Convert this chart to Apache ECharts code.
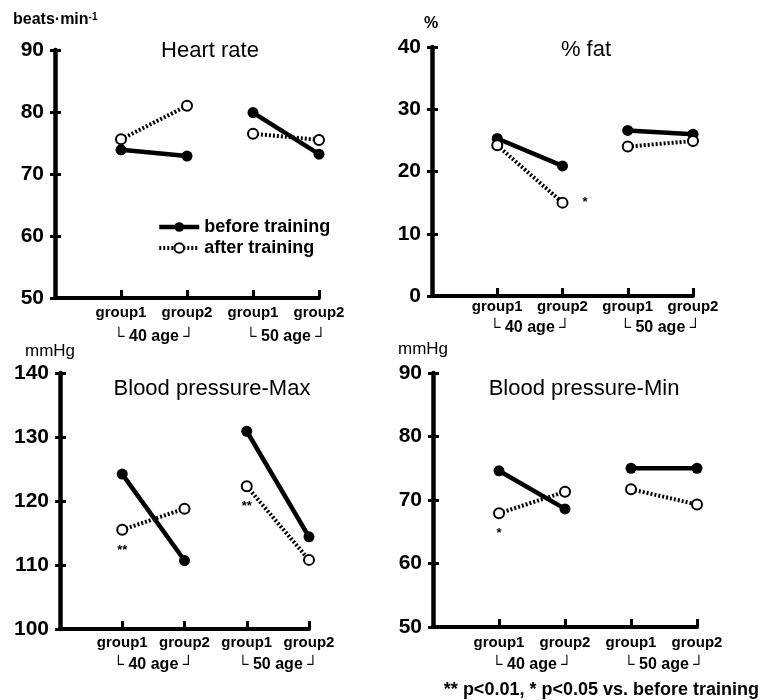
<!DOCTYPE html>
<html>
<head>
<meta charset="utf-8">
<script src="https://cdn.jsdelivr.net/npm/echarts@6/dist/echarts.min.js"></script>
<style>
  html, body { margin: 0; padding: 0; background: #fff; }
  #chart { width: 761px; height: 700px; }
</style>
</head>
<body>
<div id="chart"></div>
<script>
const categories = ['', 'group1', 'group2', 'group1', 'group2'];
const ageGroups = ['\u2514 40 age \u2518', '\u2514 50 age \u2518'];

// order: 40 age group1, 40 age group2, 50 age group1, 50 age group2
const hrBefore = [73.9, 72.9, 79.9, 73.2];
const hrAfter = [75.6, 81.0, 76.5, 75.5];
const hrTicks = [50, 60, 70, 80, 90];
const hrSig = ['', '', '', ''];

const fatBefore = [25.3, 20.9, 26.6, 26.0];
const fatAfter = [24.2, 15.0, 24.0, 24.9];
const fatTicks = [0, 10, 20, 30, 40];
const fatSig = ['', '*', '', ''];

const bpMaxBefore = [124.2, 110.7, 130.9, 114.4];
const bpMaxAfter = [115.5, 118.8, 122.3, 110.8];
const bpMaxTicks = [100, 110, 120, 130, 140];
const bpMaxSig = ['**', '', '**', ''];

const bpMinBefore = [74.6, 68.6, 75.0, 75.0];
const bpMinAfter = [67.9, 71.3, 71.7, 69.3];
const bpMinTicks = [50, 60, 70, 80, 90];
const bpMinSig = ['*', '', '', ''];

const footnote = '** p<0.01, * p<0.05 vs. before training';
const FONT = '"Liberation Sans", Arial, sans-serif';

const panels = [
  {
    title: 'Heart rate', unit: 'beats\u00b7min{sup|-1}', unitBold: true,
    before: hrBefore, after: hrAfter, ticks: hrTicks, sig: hrSig, sigPos: 'bottom',
    grid: { left: 55, top: 50, width: 264, height: 248 },
    titleAt: [205, 35], unitAt: [13, 12], labelGap: 15, ageGap: 39
  },
  {
    title: '% fat', unit: '%', unitBold: true,
    before: fatBefore, after: fatAfter, ticks: fatTicks, sig: fatSig, sigPos: 'right',
    grid: { left: 432, top: 47, width: 261, height: 249 },
    titleAt: [581, 34], unitAt: [424, 16], labelGap: 11, ageGap: 32
  },
  {
    title: 'Blood pressure-Max', unit: 'mmHg', unitBold: false,
    before: bpMaxBefore, after: bpMaxAfter, ticks: bpMaxTicks, sig: bpMaxSig, sigPos: 'bottom',
    grid: { left: 60, top: 373, width: 249, height: 256 },
    titleAt: [207, 373], unitAt: [25, 343], labelGap: 14, ageGap: 36
  },
  {
    title: 'Blood pressure-Min', unit: 'mmHg', unitBold: false,
    before: bpMinBefore, after: bpMinAfter, ticks: bpMinTicks, sig: bpMinSig, sigPos: 'bottom',
    grid: { left: 433, top: 373, width: 264, height: 254 },
    titleAt: [579, 373], unitAt: [398, 341], labelGap: 16, ageGap: 38
  }
];

// one age group's two points, the rest left empty so lines don't join across groups
function ageData(values, sig, k) {
  return categories.map((c, i) => {
    const j = i - 1;
    if (j < 2 * k || j >= 2 * k + 2) return '-';
    const item = { value: values[j] };
    if (sig && sig[j]) item.label = { show: true, formatter: sig[j] };
    return item;
  });
}

const chart = echarts.init(document.getElementById('chart'));

const grids = [], xAxes = [], yAxes = [], series = [], titles = [];

panels.forEach((p, idx) => {
  const step = p.ticks[1] - p.ticks[0];
  const yMin = p.ticks[0], yMax = p.ticks[p.ticks.length - 1];
  grids.push(Object.assign({ containLabel: false }, p.grid));
  titles.push({
    text: p.title, left: p.titleAt[0], top: p.titleAt[1], textAlign: 'center',
    textStyle: { fontSize: 22, fontWeight: 'normal', color: '#000', fontFamily: FONT }
  });
  xAxes.push({
    gridIndex: idx, type: 'category', data: categories, boundaryGap: false,
    axisLine: { lineStyle: { color: '#000', width: 4 } },
    axisTick: { inside: true, length: 8, interval: (i) => i > 0, lineStyle: { color: '#000', width: 3 } },
    axisLabel: { interval: 0, color: '#000', fontSize: 15, fontWeight: 'bold', margin: p.labelGap - 8, fontFamily: FONT },
    splitLine: { show: false }
  });
  // main axis: line, outer ticks, labels
  yAxes.push({
    gridIndex: idx, type: 'value', position: 'left', min: yMin, max: yMax, interval: step,
    axisLine: { show: true, lineStyle: { color: '#000', width: 4.5 } },
    axisTick: { show: true, length: 5, lineStyle: { color: '#000', width: 3 } },
    axisLabel: { color: '#000', fontSize: 21, fontWeight: 'bold', margin: 11, fontFamily: FONT },
    splitLine: { show: false }
  });
  // twin axis for the inner half of the cross ticks
  yAxes.push({
    gridIndex: idx, type: 'value', position: 'left', offset: 0, min: yMin, max: yMax, interval: step,
    axisLine: { show: false },
    axisTick: { show: true, inside: true, length: 6, lineStyle: { color: '#000', width: 3 } },
    axisLabel: { show: false },
    splitLine: { show: false }
  });
  [0, 1].forEach((k) => {
    series.push({
      name: 'before training', type: 'line', xAxisIndex: idx, yAxisIndex: 2 * idx,
      data: ageData(p.before, null, k),
      symbol: 'circle', symbolSize: 11,
      lineStyle: { color: '#000', width: 4.5 },
      itemStyle: { color: '#000' },
      z: 2, animation: false
    });
    series.push({
      name: 'after training', type: 'line', xAxisIndex: idx, yAxisIndex: 2 * idx,
      data: ageData(p.after, p.sig, k),
      symbol: 'emptyCircle', symbolSize: 10,
      lineStyle: { color: '#000', width: 4, type: [2, 2] },
      itemStyle: { color: '#000', borderWidth: 1.5 },
      label: {
        show: false, position: p.sigPos, distance: p.sigPos === 'right' ? 14 : 8,
        color: '#000', fontSize: 13, fontWeight: 'bold', fontFamily: FONT
      },
      z: 3, animation: false
    });
  });
});

chart.setOption({
  animation: false,
  textStyle: { fontFamily: FONT },
  title: titles,
  grid: grids,
  xAxis: xAxes,
  yAxis: yAxes,
  legend: {
    data: ['before training', 'after training'],
    orient: 'vertical', left: 152, top: 213, itemWidth: 40, itemHeight: 12, itemGap: 3,
    selectedMode: false,
    lineStyle: { width: 'inherit' },
    textStyle: { fontSize: 18, fontWeight: 'bold', color: '#000', fontFamily: FONT }
  },
  series: series
});

// units, age brackets under the category labels and the footnote
const graphic = [];
panels.forEach((p, idx) => {
  graphic.push({
    type: 'text', x: p.unitAt[0], y: p.unitAt[1],
    style: {
      text: p.unit, fill: '#000', fontSize: p.unitBold ? 16 : 17,
      fontWeight: p.unitBold ? 'bold' : 'normal', fontFamily: FONT,
      rich: { sup: { fontSize: 10, fontWeight: 'bold', verticalAlign: 'top', fontFamily: FONT } }
    }
  });
  const y0 = chart.convertToPixel({ yAxisIndex: 2 * idx }, p.ticks[0]);
  [0, 1].forEach((k) => {
    const x1 = chart.convertToPixel({ xAxisIndex: idx }, 2 * k + 1);
    const x2 = chart.convertToPixel({ xAxisIndex: idx }, 2 * k + 2);
    graphic.push({
      type: 'text', x: (x1 + x2) / 2, y: y0 + p.ageGap,
      style: {
        text: ageGroups[k], fill: '#000', fontSize: 16, fontWeight: 'bold', fontFamily: FONT,
        textAlign: 'center', textVerticalAlign: 'middle'
      }
    });
  });
});
graphic.push({
  type: 'text', x: 759, y: 690,
  style: {
    text: footnote, fill: '#000', fontSize: 18, fontWeight: 'bold', fontFamily: FONT,
    textAlign: 'right', textVerticalAlign: 'middle'
  }
});
chart.setOption({ graphic: graphic });
</script>
</body>
</html>
